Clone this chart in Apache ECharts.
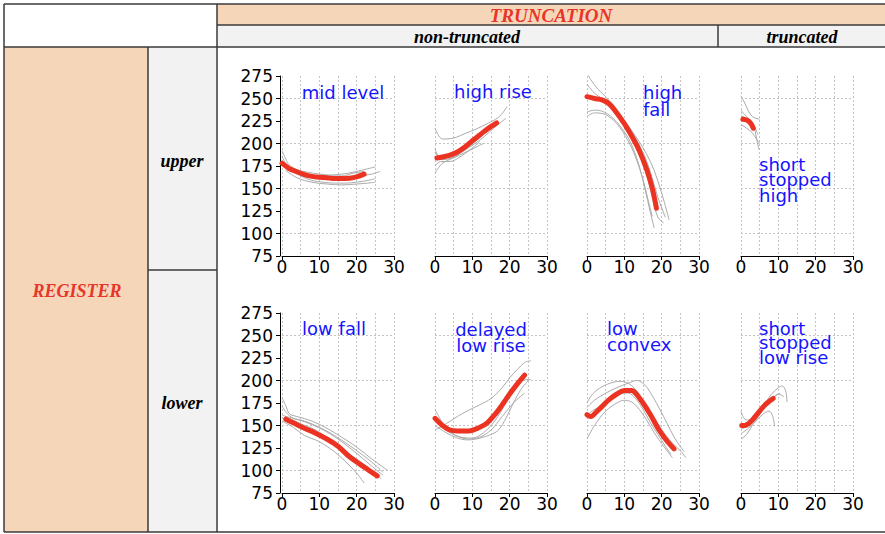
<!DOCTYPE html>
<html>
<head>
<meta charset="utf-8">
<script src="https://cdn.jsdelivr.net/npm/echarts@6/dist/echarts.min.js"></script>
<style>
  html, body { margin: 0; padding: 0; background: #fff; }
  #chart { width: 885px; height: 534px; }
</style>
</head>
<body>
<div id="chart"></div>
<script>
// ---- headings ----
const truncationTitle = 'TRUNCATION';
const registerTitle = 'REGISTER';
const truncationLevels = ['non-truncated', 'truncated'];
const registerLevels = ['upper', 'lower'];
const contourNames = [
  'mid level', 'high rise', 'high\nfall', 'short\nstopped\nhigh',
  'low fall', 'delayed\nlow rise', 'low\nconvex', 'short\nstopped\nlow rise'
];

// ---- axis scales (time in cs, F0 in Hz) ----
const xTicks = [0, 10, 20, 30];
const yTicks = [75, 100, 125, 150, 175, 200, 225, 250, 275];

// ---- contours: [time, F0]; mean contour + individual tokens ----
const midLevelMean = [[0,178],[1,175],[2,172],[4,168.5],[6,165.5],[8,163.5],[10,162.5],[12,162],[14,161],[16,161],[18,161.5],[20,163],[22,166]];
const midLevelTokens = [
  [[0,192],[1,183],[2,176],[4,171],[7,168],[10,166],[13,165],[16,166],[19,168],[22,171],[25,174]],
  [[0,186],[1,178],[3,170],[6,165],[9,162],[12,161],[15,161],[18,162],[21,164],[24,166],[26.3,169]],
  [[0,181],[2,172],[5,164],[8,159],[11,157],[14,156],[17,156],[20,157],[23,159],[25,161]],
  [[0,176],[2,171],[5,167],[8,165],[12,164],[16,164],[19,167],[22,169]],
  [[1,170],[4,162],[8,157],[12,155],[16,154],[20,155],[23,156],[25,157]]
];

const highRiseMean = [[0.5,184],[2,185],[4,187],[6,190.5],[8,196],[10,203],[12,209.5],[14,216],[16.5,223]];
const highRiseTokens = [
  [[0,217],[2,205],[5,206],[8,211],[11,216],[14,222],[17,229],[18.5,236],[19.3,241]],
  [[0,195],[1,186],[4,184],[7,190],[10,198],[13,207],[16,218],[19,228]],
  [[0,190],[2,182],[5,185],[8,193],[11,203],[14,214],[16,222]],
  [[0,167],[2,178],[5,184],[8,190],[11,196],[13,200]],
  [[0,175],[1.5,180],[4,180],[7,186],[10,195],[12,202]]
];

const highFallMean = [[0,252],[2,250],[4,248.5],[6,244],[8,234],[10,222],[12,208],[14,192],[16,171],[17.5,150],[18.6,128]];
const highFallTokens = [
  [[0,279],[1,271],[3,260],[5,252],[8,236],[11,220],[14,202],[16,188],[18,170],[20,145],[22,115]],
  [[0,266],[2,256],[4,250],[6,245],[9,230],[12,213],[15,190],[17,168],[19,140],[21,118]],
  [[0,250],[3,249],[6,240],[9,225],[12,206],[14,188],[16,165],[17.5,140],[19,118],[20.5,112]],
  [[0,235],[2,237],[4,236],[7,228],[10,213],[12,198],[14,175],[15.5,150],[17,123],[18,106]],
  [[0,230],[2,234],[5,232],[8,222],[11,203],[13,185],[15,160],[16.5,135],[17.5,119]]
];

const shortHighMean = [[0.5,227],[1.5,226],[2.5,223],[3.3,217]];
const shortHighTokens = [
  [[0,253],[1,245],[2,236],[3,230],[4,228],[5,227]],
  [[0,237],[1,232],[2.5,226],[3.5,218],[4.2,205],[4.8,193]],
  [[0,221],[1.5,217],[3,212],[4,206],[5,200]],
  [[0,231],[1,229],[2.5,225],[3.5,220],[4.5,210]]
];

const lowFallMean = [[1,157],[3,153],[6,147],[9,141.5],[12,135],[15,127],[18,115.5],[21,106.5],[23,101],[25.5,94]];
const lowFallTokens = [
  [[0,181],[1,172],[2,163],[4,160],[8,155],[12,147],[16,137],[20,126],[24,113],[27,104],[28.3,100]],
  [[0,172],[1,165],[3,158],[6,155],[10,148],[14,139],[18,128],[22,116],[25,106],[27,98]],
  [[0,162],[2,158],[5,152],[9,145],[13,134],[17,121],[21,110],[24,100],[26.5,91]],
  [[0,155],[3,148],[6,139],[10,132],[14,121],[17,110],[20,97],[22,86]],
  [[1,160],[4,157],[8,151],[12,143],[16,132],[20,119],[24,105],[27,95]]
];

const delayedRiseMean = [[0,158],[2,150],[4,145],[6,144],[9,144],[12,148],[14,153],[16,162],[18,173],[20,185],[22,196],[24,206]];
const delayedRiseTokens = [
  [[0,145],[3,152],[6,160],[9,167],[12,173],[15,180],[18,192],[20,203],[22,212],[24,220],[25.7,222]],
  [[0,168],[2,153],[4,143],[7,137],[10,136],[13,142],[16,155],[19,175],[21,190],[23,200],[25.7,201]],
  [[0,160],[3,145],[6,138],[9,135],[12,137],[15,145],[18,160],[21,175],[24,186]],
  [[0,150],[3,142],[6,136],[9,134],[12,136],[15,140],[17,145],[19,158],[21,175],[23,190],[25,200]]
];

const lowConvexMean = [[0,162],[1,160],[2,163],[4,171],[6,179],[8,185],[10,189],[12,189],[13,186],[15,175],[17,162],[19,147],[21,135],[23.3,124]];
const lowConvexTokens = [
  [[0,175],[1.5,185],[4,193],[7,198],[9,199],[11,197],[13,190],[15,178],[17,165],[19,152],[21,140],[23,130],[25,122],[26.5,114]],
  [[0,170],[2,178],[5,186],[8,192],[11,197],[13.4,200],[15.5,195],[17.5,183],[19.5,168],[21.5,152],[23.5,136],[26,121]],
  [[0,135],[2,150],[5,166],[8,175],[10,178],[12,176],[14,168],[16,156],[18,142],[20,130],[22.9,114]],
  [[0,158],[1,165],[3,170],[6,178],[9,185],[11,186],[13,180],[15,168],[17,153],[19,140],[21,127],[22.5,118]]
];

const shortLowRiseMean = [[0.2,150],[1,150],[2,152],[3,156],[4,161],[5,166],[6,171],[7,175],[8.6,180]];
const shortLowRiseTokens = [
  [[0,166],[0.8,158],[2,156],[4,163],[6,172],[8,184],[10,192],[11,194],[12,188],[12.3,176]],
  [[0,141],[2,147],[4,155],[6,163],[7.5,166],[8.5,160],[9,149]],
  [[0,146],[2,150],[4,160],[6,170],[8,178],[10,185],[11.5,182]],
  [[0,135],[1.5,140],[3,150],[5,162],[7,174],[9,182],[10.5,186]]
];

const panelMeans = [midLevelMean, highRiseMean, highFallMean, shortHighMean,
                    lowFallMean, delayedRiseMean, lowConvexMean, shortLowRiseMean];
const panelTokens = [midLevelTokens, highRiseTokens, highFallTokens, shortHighTokens,
                     lowFallTokens, delayedRiseTokens, lowConvexTokens, shortLowRiseTokens];

// ---- layout ----
const colLeft = [282, 435, 587, 741];
const rowTop = [76, 313];
const plotW = 112, plotH = 180;

// class-name placement inside each panel: [x, y of first line centre, align, line height]
const nameSpots = [
  [343, 92, 'center', 16], [493, 91, 'center', 16], [643, 92, 'left', 17.5], [759, 164, 'left', 15.5],
  [334, 328, 'center', 16], [491, 329, 'center', 16.3], [607, 328, 'left', 16.6], [759, 328, 'left', 14.5]
];

const ink = '#000';
const dotted = { color: '#c4c4c4', width: 1, type: [2, 2] };
const meanColor = '#ec3322';
const tokenColor = '#ababab';
const numFont = 'DejaVu Sans';

const grids = [], xAxes = [], yAxes = [], series = [];
for (let i = 0; i < 8; i++) {
  const row = i < 4 ? 0 : 1, col = i % 4;
  grids.push({ left: colLeft[col], top: rowTop[row], width: plotW, height: plotH });
  xAxes.push({
    gridIndex: i, type: 'value', min: xTicks[0], max: xTicks[xTicks.length - 1], interval: 10,
    axisLine: { show: true, onZero: false, lineStyle: { color: ink, width: 1 } },
    axisTick: { show: true, length: 4, lineStyle: { color: ink } },
    axisLabel: { color: ink, fontFamily: numFont, fontSize: 17, margin: 2 },
    splitLine: { show: true, lineStyle: dotted },
    minorTick: { show: false, splitNumber: 2 },
    minorSplitLine: { show: true, lineStyle: dotted }
  });
  const withAxis = col === 0;
  yAxes.push({
    gridIndex: i, type: 'value', min: yTicks[0], max: yTicks[yTicks.length - 1], interval: 25,
    offset: withAxis ? 2 : 0,
    axisLine: { show: withAxis, onZero: false, lineStyle: { color: ink, width: 1 } },
    axisTick: { show: withAxis, length: 4, lineStyle: { color: ink } },
    axisLabel: { show: withAxis, color: ink, fontFamily: numFont, fontSize: 17, margin: 7 },
    splitLine: { show: true, lineStyle: Object.assign({}, dotted, { color: ['rgba(0,0,0,0)', dotted.color] }) }
  });
  panelTokens[i].forEach(tok => series.push({
    type: 'line', xAxisIndex: i, yAxisIndex: i, data: tok, showSymbol: false, smooth: 0.35,
    lineStyle: { color: tokenColor, width: 1 }, silent: true, z: 2
  }));
  series.push({
    type: 'line', xAxisIndex: i, yAxisIndex: i, data: panelMeans[i], showSymbol: false, smooth: 0.35,
    lineStyle: { color: meanColor, width: 5, cap: 'round', join: 'round' }, silent: true, z: 3
  });
}

// ---- table frame ----
const border = '#3a3a3a';
const peach = '#f5d6b9';
const pale = '#f2f2f2';
const serifBI = sz => 'italic bold ' + sz + 'px "Liberation Serif", "Times New Roman", serif';
const seg = (x1, y1, x2, y2) => ({ type: 'line', shape: { x1, y1, x2, y2 }, style: { stroke: border, lineWidth: 1.5 }, silent: true, z: 10 });
const box = (x, y, w, h, fill) => ({ type: 'rect', shape: { x, y, width: w, height: h }, style: { fill }, silent: true, z: 1 });
const label = (x, y, text, fill, size) => ({ type: 'text', x, y, style: { text, fill, font: serifBI(size), align: 'center', verticalAlign: 'middle' }, silent: true, z: 11 });

const graphic = [
  box(217, 4, 668, 21, peach),
  box(217, 25, 668, 22, pale),
  box(4, 47, 144, 485, peach),
  box(148, 47, 69, 485, pale),
  seg(4, 4, 885, 4), seg(217, 25, 885, 25), seg(4, 47, 885, 47), seg(4, 532, 885, 532),
  seg(4, 4, 4, 532), seg(217, 4, 217, 532), seg(148, 47, 148, 532), seg(148, 270, 217, 270),
  seg(718, 25, 718, 47),
  label(551, 15, truncationTitle, '#e8352a', 19),
  label(467, 37, truncationLevels[0], '#000', 18),
  label(802, 37, truncationLevels[1], '#000', 18),
  label(77, 291, registerTitle, '#e8352a', 18),
  label(182, 161, registerLevels[0], '#000', 18),
  label(182, 403, registerLevels[1], '#000', 18)
];
contourNames.forEach((name, i) => {
  const [x, y, align, lh] = nameSpots[i];
  graphic.push({
    type: 'text', x, y: y - lh / 2, silent: true, z: 12,
    style: { text: name, fill: '#1414ff', font: '18px "DejaVu Sans", sans-serif', align, verticalAlign: 'top', lineHeight: lh }
  });
});

const chart = echarts.init(document.getElementById('chart'), null, { renderer: 'svg' });
chart.setOption({
  backgroundColor: '#fff',
  animation: false,
  grid: grids,
  xAxis: xAxes,
  yAxis: yAxes,
  series,
  graphic
});
</script>
</body>
</html>
